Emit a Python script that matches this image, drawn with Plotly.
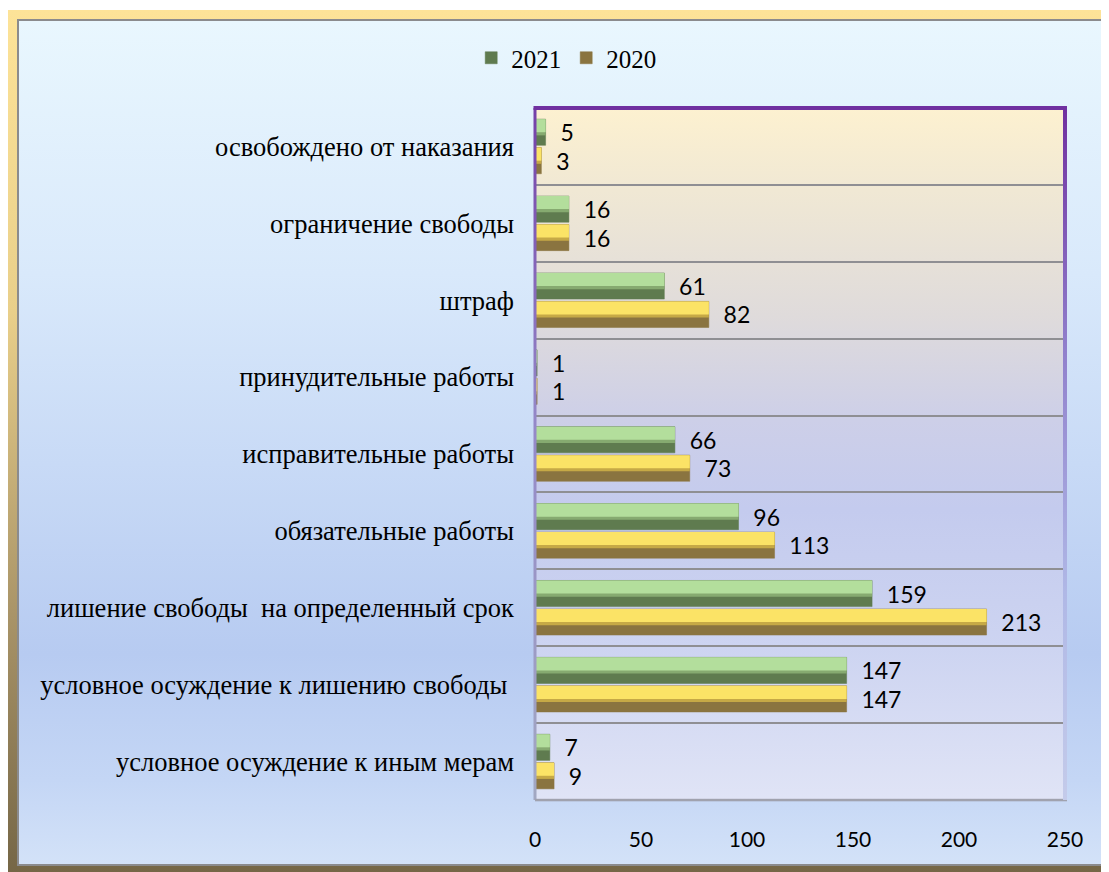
import base64
from plotly import graph_objects as go

# categories from bottom to top, as they appear on the chart
categories = [
    "условное осуждение к иным мерам",
    "условное осуждение к лишению свободы\u00a0",
    "лишение свободы  на определенный срок",
    "обязательные работы",
    "исправительные работы",
    "принудительные работы",
    "штраф",
    "ограничение свободы",
    "освобождено от наказания",
]
values2021 = [7, 147, 159, 96, 66, 1, 61, 16, 5]
values2020 = [9, 147, 213, 113, 73, 1, 82, 16, 3]
xTicks = [0, 50, 100, 150, 200, 250]

# the page puts the figure 8px in from the top-left corner
W, H = 1101, 864
L, R, T, B = 527, 44, 100, 72
pw, ph = W - L - R, H - T - B


def svgUri(svg):
    return "data:image/svg+xml;base64," + base64.b64encode(svg.encode("utf-8")).decode()


def frameBackground():
    return f"""<svg xmlns="http://www.w3.org/2000/svg" width="{W}" height="{H}" viewBox="0 0 {W} {H}" preserveAspectRatio="none">
<defs>
<linearGradient id="gold" x1="0" y1="0" x2="0" y2="1">
<stop offset="0" stop-color="#fde398"/><stop offset="0.35" stop-color="#e9cf8a"/>
<stop offset="0.7" stop-color="#a99468"/><stop offset="1" stop-color="#756646"/></linearGradient>
<linearGradient id="sky" x1="0" y1="0" x2="0" y2="1">
<stop offset="0" stop-color="#e9f7fe"/><stop offset="0.3" stop-color="#d9e9fb"/>
<stop offset="0.75" stop-color="#b7cbf1"/><stop offset="0.9" stop-color="#c4d6f5"/>
<stop offset="1" stop-color="#d3e2f8"/></linearGradient>
</defs>
<rect x="0" y="0" width="{W}" height="{H}" fill="#ffffff"/>
<rect x="0" y="2" width="{W + 10}" height="{H}" fill="url(#gold)"/>
<rect x="9" y="11" width="{W}" height="847" fill="#8b8b8d"/>
<rect x="11" y="13" width="{W}" height="843" fill="url(#sky)"/>
</svg>"""


def plotBackground():
    return f"""<svg xmlns="http://www.w3.org/2000/svg" width="{pw}" height="{ph}" viewBox="0 0 {pw} {ph}" preserveAspectRatio="none">
<defs><linearGradient id="pa" x1="0" y1="0" x2="0" y2="1">
<stop offset="0" stop-color="#fdf1d0"/><stop offset="0.12" stop-color="#f0e8d4"/>
<stop offset="0.3" stop-color="#dfdbdb"/><stop offset="0.45" stop-color="#cdcfe8"/>
<stop offset="0.58" stop-color="#c4cbee"/><stop offset="0.78" stop-color="#cdd4f1"/>
<stop offset="1" stop-color="#e0e4f6"/></linearGradient></defs>
<rect x="0" y="0" width="{pw}" height="{ph}" fill="url(#pa)"/>
</svg>"""


def plotBorder(pad):
    w, h = pw + 2 * pad, ph + 2 * pad
    return f"""<svg xmlns="http://www.w3.org/2000/svg" width="{w}" height="{h}" viewBox="0 0 {w} {h}" preserveAspectRatio="none">
<defs>
<linearGradient id="rb" gradientUnits="userSpaceOnUse" x1="0" y1="{pad}" x2="0" y2="{pad + ph}">
<stop offset="0" stop-color="#7030a0"/><stop offset="0.35" stop-color="#9080cc"/>
<stop offset="0.7" stop-color="#b0b8e6"/><stop offset="1" stop-color="#c4cbea"/></linearGradient>
<linearGradient id="lb" gradientUnits="userSpaceOnUse" x1="0" y1="{pad}" x2="0" y2="{pad + ph}">
<stop offset="0" stop-color="#7440a8"/><stop offset="0.45" stop-color="#9488c8"/>
<stop offset="1" stop-color="#a2a8c2"/></linearGradient>
</defs>
<rect x="{pad - 1.5}" y="{pad}" width="3" height="{ph}" fill="url(#lb)"/>
<rect x="{pad}" y="{pad + ph - 1.2}" width="{pw + 2}" height="2.5" fill="#a0a2ae"/>
<rect x="{pad + pw - 2}" y="{pad}" width="4" height="{ph}" fill="url(#rb)"/>
<rect x="{pad - 1.5}" y="{pad - 2}" width="{pw + 3.5}" height="4" fill="#7030a0"/>
</svg>"""


def bevelBars(fig, values, name, dark, mid, light, offset, width, legendRank):
    label = ["\u00a0\u00a0" + str(v) for v in values]
    fig.add_trace(go.Bar(y=categories, x=values, orientation="h", name=name,
                         offset=offset, width=width, legendgroup=name, legendrank=legendRank,
                         marker=dict(color=dark, line=dict(color=dark, width=0.5)),
                         text=label, textposition="outside", constraintext="none", cliponaxis=False,
                         textfont=dict(family="Lato", size=23, color="#000000")))
    # lighter upper part of the bar gives the bevelled look
    fig.add_trace(go.Bar(y=categories, x=values, orientation="h", name=name,
                         offset=offset + width * 0.38, width=width * 0.62, legendgroup=name,
                         showlegend=False, hoverinfo="skip", marker=dict(color=mid, line=dict(width=0))))
    fig.add_trace(go.Bar(y=categories, x=values, orientation="h", name=name,
                         offset=offset + width * 0.5, width=width * 0.5, legendgroup=name,
                         showlegend=False, hoverinfo="skip", marker=dict(color=light, line=dict(width=0))))


fig = go.Figure()
bevelBars(fig, values2021, "2021", "#5f7b4f", "#86aa70", "#b3de9c", 0.015, 0.34, 1)
bevelBars(fig, values2020, "2020", "#8a7440", "#c6a946", "#fbe366", -0.355, 0.34, 2)

pad = 4
fig.update_layout(
    width=W, height=H,
    margin=dict(l=L, r=R, t=T, b=B),
    paper_bgcolor="#ffffff",
    plot_bgcolor="rgba(0,0,0,0)",
    barmode="overlay",
    showlegend=True,
    legend=dict(orientation="h", xref="container", yref="container", x=0.507, y=1 - 50 / H,
                xanchor="center", yanchor="middle", bgcolor="rgba(0,0,0,0)",
                font=dict(family="Liberation Serif", size=25, color="#000000"), itemwidth=30),
    images=[
        dict(source=svgUri(frameBackground()), xref="paper", yref="paper",
             x=-L / pw, y=(H - B) / ph, sizex=W / pw, sizey=H / ph,
             xanchor="left", yanchor="top", sizing="stretch", layer="below"),
        dict(source=svgUri(plotBackground()), xref="paper", yref="paper",
             x=0, y=1, sizex=1, sizey=1, xanchor="left", yanchor="top",
             sizing="stretch", layer="below"),
        dict(source=svgUri(plotBorder(pad)), xref="paper", yref="paper",
             x=-pad / pw, y=1 + pad / ph, sizex=1 + 2 * pad / pw, sizey=1 + 2 * pad / ph,
             xanchor="left", yanchor="top", sizing="stretch", layer="above"),
    ],
)
fig.update_xaxes(range=[0, 250], tickvals=xTicks, showgrid=False, zeroline=False, showline=False,
                 ticks="", ticklabelstandoff=25,
                 tickfont=dict(family="Lato", size=21, color="#000000"))
fig.update_yaxes(type="category", categoryorder="array", categoryarray=categories,
                 showgrid=True, gridcolor="#8f8f93", gridwidth=2, tickson="boundaries",
                 showline=False, zeroline=False, ticks="", ticklabelstandoff=20,
                 tickfont=dict(family="Liberation Serif", size=26.5, color="#000000"))

fig.write_html("out.html")
